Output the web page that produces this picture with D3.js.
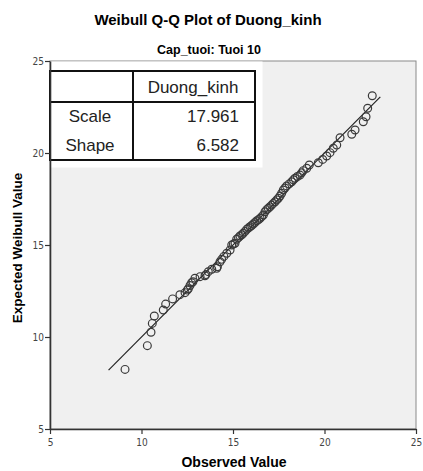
<!DOCTYPE html>
<html>
<head>
<meta charset="utf-8">
<script src="https://cdn.jsdelivr.net/npm/d3@7"></script>
<style>
  body { margin: 0; background: #fff; }
  .tick text { font-family: "DejaVu Sans Condensed", "DejaVu Sans", sans-serif; font-size: 10px; fill: #444; }
</style>
</head>
<body>
<div id="chart"></div>
<script>
//data
var observed = [9.10, 10.32, 10.52, 10.59, 10.70, 11.19, 11.32, 11.70, 12.10, 12.38,
    12.50, 12.56, 12.65, 12.74, 12.81, 12.92, 13.20, 13.47, 13.52, 13.65,
    13.84, 14.11, 14.15, 14.29, 14.38, 14.50, 14.66, 14.84, 14.93, 15.02,
    15.11, 15.20, 15.30, 15.38, 15.48, 15.56, 15.66, 15.75, 15.84, 15.93,
    16.02, 16.11, 16.20, 16.30, 16.40, 16.48, 16.57, 16.66, 16.75, 16.84,
    16.93, 17.02, 17.11, 17.20, 17.30, 17.39, 17.48, 17.57, 17.66, 17.75,
    17.84, 17.93, 18.07, 18.21, 18.30, 18.39, 18.52, 18.66, 18.75, 18.84,
    19.03, 19.17, 19.66, 19.90, 20.12, 20.30, 20.48, 20.67, 20.85, 21.49,
    21.67, 22.12, 22.27, 22.36, 22.61];
var expected = [8.24, 9.53, 10.26, 10.74, 11.14, 11.47, 11.79, 12.07, 12.30, 12.41,
    12.55, 12.62, 12.80, 12.95, 13.00, 13.19, 13.28, 13.33, 13.39, 13.55,
    13.68, 13.73, 13.82, 14.09, 14.22, 14.38, 14.55, 14.73, 15.00, 15.05,
    15.09, 15.31, 15.40, 15.49, 15.56, 15.64, 15.74, 15.85, 15.92, 15.99,
    16.06, 16.14, 16.22, 16.32, 16.38, 16.45, 16.54, 16.63, 16.81, 16.92,
    17.00, 17.08, 17.17, 17.26, 17.35, 17.45, 17.54, 17.66, 17.81, 17.99,
    18.10, 18.21, 18.32, 18.44, 18.54, 18.63, 18.72, 18.80, 18.92, 19.04,
    19.17, 19.35, 19.47, 19.65, 19.84, 20.02, 20.26, 20.43, 20.83, 21.02,
    21.25, 21.70, 21.97, 22.43, 23.11];
var refLine = [8.2, 23.05];
var ticks = [5, 10, 15, 20, 25];
var tableHead = ["", "Duong_kinh"];
var tableRows = [["Scale", "17.961"], ["Shape", "6.582"]];

var width = 423, height = 471;
var pLeft = 50, pRight = 416, pTop = 61, pBottom = 429;

var svg = d3.select("#chart").append("svg").attr("width", width).attr("height", height);

var x = d3.scaleLinear().domain([5, 25]).range([pLeft, pRight]);
var y = d3.scaleLinear().domain([5, 25]).range([pBottom, pTop]);

//plot background and frame
svg.append("rect")
    .attr("x", pLeft).attr("y", pTop)
    .attr("width", pRight - pLeft).attr("height", pBottom - pTop)
    .attr("fill", "#f0f0f0").attr("stroke", "#8a8a8a").attr("stroke-width", 1);

//reference line
svg.append("line")
    .attr("x1", x(refLine[0])).attr("y1", y(refLine[0]))
    .attr("x2", x(refLine[1])).attr("y2", y(refLine[1]))
    .attr("stroke", "#222").attr("stroke-width", 1.2);

//points
svg.selectAll("circle.pt")
    .data(d3.range(observed.length))
    .enter().append("circle")
    .attr("class", "pt")
    .attr("cx", function(i){ return x(observed[i]); })
    .attr("cy", function(i){ return y(expected[i]); })
    .attr("r", 3.9)
    .attr("fill", "none")
    .attr("stroke", "#3a3a3a")
    .attr("stroke-width", 1.2);

//table with fitted params
var tb = svg.append("g");
tb.append("rect").attr("x", pLeft + 0.5).attr("y", pTop + 0.5)
    .attr("width", 212).attr("height", 106).attr("fill", "#fff");
var tx0 = 50, tx1 = 133, tx2 = 255, ty0 = 71, ty1 = 102, ty2 = 160;
tb.append("rect").attr("x", tx0).attr("y", ty0)
    .attr("width", tx2 - tx0).attr("height", ty2 - ty0)
    .attr("fill", "none").attr("stroke", "#111").attr("stroke-width", 2);
tb.append("line").attr("x1", tx1).attr("x2", tx1).attr("y1", ty0).attr("y2", ty2)
    .attr("stroke", "#111").attr("stroke-width", 2);
tb.append("line").attr("x1", tx0).attr("x2", tx2).attr("y1", ty1).attr("y2", ty1)
    .attr("stroke", "#111").attr("stroke-width", 2);
tb.append("text").attr("x", (tx1 + tx2) / 2 - 1).attr("y", 93)
    .attr("text-anchor", "middle")
    .style("font-family", "Liberation Sans, Arial, sans-serif").style("font-size", "17px").style("fill", "#222")
    .text(tableHead[1]);
tableRows.forEach(function(r, i){
    tb.append("text").attr("x", 90).attr("y", 122 + i * 29)
        .attr("text-anchor", "middle")
        .style("font-family", "Liberation Sans, Arial, sans-serif").style("font-size", "17px").style("fill", "#222")
        .text(r[0]);
    tb.append("text").attr("x", 239).attr("y", 122 + i * 29)
        .attr("text-anchor", "end")
        .style("font-family", "Liberation Sans, Arial, sans-serif").style("font-size", "17px").style("fill", "#222")
        .text(r[1]);
});

//axes
var xA = d3.axisBottom(x).tickValues(ticks).tickSize(5).tickSizeOuter(0);
var yA = d3.axisLeft(y).tickValues(ticks).tickSize(5).tickSizeOuter(0);
var gx = svg.append("g").attr("transform", "translate(0," + pBottom + ")").call(xA);
var gy = svg.append("g").attr("transform", "translate(" + pLeft + ",0)").call(yA);
[gx, gy].forEach(function(g){
    g.select(".domain").attr("stroke", "#333").attr("stroke-width", 1.6);
    g.selectAll(".tick line").attr("stroke", "#333").attr("stroke-width", 1.2);
});
gx.selectAll(".tick text").attr("dy", "0.9em");
gy.selectAll(".tick text").attr("dx", "0.2em");

//titles
svg.append("text").attr("x", 208).attr("y", 25)
    .attr("text-anchor", "middle")
    .style("font-family", "Liberation Sans, Arial, sans-serif").style("font-size", "15px").style("font-weight", "bold")
    .text("Weibull Q-Q Plot of Duong_kinh");
svg.append("text").attr("x", 209).attr("y", 54)
    .attr("text-anchor", "middle")
    .style("font-family", "Liberation Sans, Arial, sans-serif").style("font-size", "12.5px").style("font-weight", "bold")
    .text("Cap_tuoi: Tuoi 10");
svg.append("text").attr("x", 234).attr("y", 467)
    .attr("text-anchor", "middle")
    .style("font-family", "Liberation Sans, Arial, sans-serif").style("font-size", "14px").style("font-weight", "bold")
    .text("Observed Value");
svg.append("text")
    .attr("transform", "translate(22," + 248 + ") rotate(-90)")
    .attr("text-anchor", "middle")
    .style("font-family", "Liberation Sans, Arial, sans-serif").style("font-size", "13.5px").style("font-weight", "bold")
    .text("Expected Weibull Value");
</script>
</body>
</html>
